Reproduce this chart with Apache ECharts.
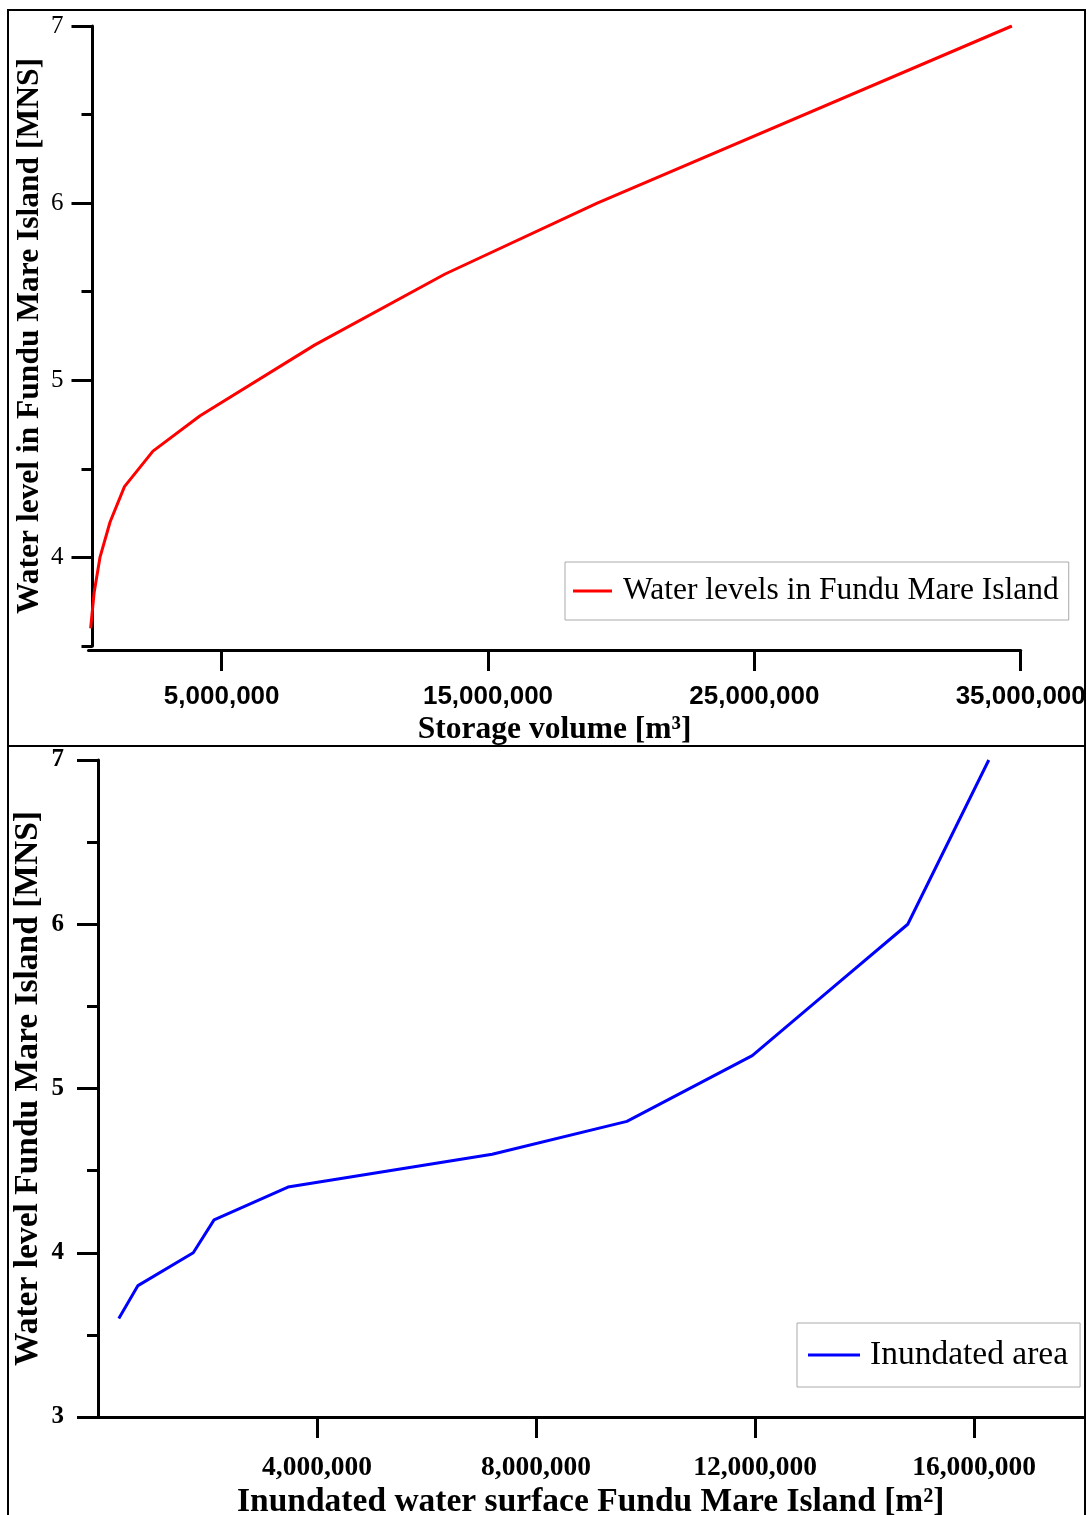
<!DOCTYPE html>
<html>
<head>
<meta charset="utf-8">
<script src="https://cdn.jsdelivr.net/npm/echarts@6/dist/echarts.min.js"></script>
<style>
html,body{margin:0;padding:0;background:#fff;}
#chart{width:1087px;height:1515px;}
</style>
</head>
<body>
<div id="chart"></div>
<script>
// Top chart: storage volume vs water level
const storageVolume = [80000, 210000, 430000, 810000, 1350000, 2420000, 4190000, 8500000, 13390000, 19100000, 34670000];
const storageLevel  = [3.6, 3.8, 4.0, 4.2, 4.4, 4.6, 4.8, 5.2, 5.6, 6.0, 7.0];
// Bottom chart: inundated area vs water level
const inundatedArea  = [380000, 730000, 1740000, 2120000, 3470000, 7200000, 9660000, 11950000, 13370000, 14790000, 16270000];
const inundatedLevel = [3.6, 3.8, 4.0, 4.2, 4.4, 4.6, 4.8, 5.2, 5.6, 6.0, 7.0];

const topXTicks = [5000000, 15000000, 25000000, 35000000];
const topYMajor = [4, 5, 6, 7];
const topYMinor = [3.5, 4.5, 5.5, 6.5];
const botXTicks = [4000000, 8000000, 12000000, 16000000];
const botYMajor = [3, 4, 5, 6, 7];
const botYMinor = [3.5, 4.5, 5.5, 6.5];

const seriesNames = ['Water levels in Fundu Mare Island', 'Inundated area'];

const SERIF = '"Liberation Serif", "Times New Roman", serif';
const SANS = '"Liberation Sans", Arial, sans-serif';
const fmt = v => Number(v).toLocaleString('en-US');

const chart = echarts.init(document.getElementById('chart'));
const axisLine = {show: true, lineStyle: {color: '#000', width: 3}};

chart.setOption({
  animation: false,
  backgroundColor: '#fff',
  grid: [
    {left: 88.5, right: 66.3, top: 26, height: 620, containLabel: false, outerBoundsMode: 'none'},
    {left: 98, right: 3.5, top: 760, height: 657, containLabel: false, outerBoundsMode: 'none'}
  ],
  xAxis: [
    {
      gridIndex: 0, type: 'value', min: 0, max: 35000000, offset: 4,
      axisLine: axisLine, splitLine: {show: false},
      axisTick: {show: true, length: 21, lineStyle: {width: 3, color: '#000'}, customValues: topXTicks},
      axisLabel: {customValues: topXTicks, formatter: fmt, margin: 34, fontFamily: SANS, fontWeight: 'bold', fontSize: 26, color: '#000'},
      name: 'Storage volume [m³]', nameLocation: 'middle', nameGap: 64,
      nameTextStyle: {fontFamily: SERIF, fontWeight: 'bold', fontSize: 31.5, color: '#000'}
    },
    {
      gridIndex: 1, type: 'value', min: 0, max: 18000000,
      axisLine: axisLine, splitLine: {show: false},
      axisTick: {show: true, length: 21, lineStyle: {width: 3, color: '#000'}, customValues: botXTicks},
      axisLabel: {customValues: botXTicks, formatter: fmt, margin: 37, fontFamily: SERIF, fontWeight: 'bold', fontSize: 27.5, color: '#000'},
      name: 'Inundated water surface Fundu Mare Island [m²]', nameLocation: 'middle', nameGap: 68,
      nameTextStyle: {fontFamily: SERIF, fontWeight: 'bold', fontSize: 33.5, color: '#000'}
    }
  ],
  yAxis: [
    {
      gridIndex: 0, type: 'value', min: 3.5, max: 7, offset: -4, position: 'left',
      axisLine: axisLine, splitLine: {show: false},
      axisTick: {show: true, length: 21, lineStyle: {width: 3, color: '#000'}, customValues: topYMajor},
      axisLabel: {customValues: topYMajor, margin: 29, fontFamily: SERIF, fontSize: 25, color: '#000'},
      name: 'Water level in Fundu Mare Island [MNS]', nameLocation: 'middle', nameGap: 47, nameMoveOverlap: false,
      nameTextStyle: {fontFamily: SERIF, fontWeight: 'bold', fontSize: 31.5, color: '#000'}
    },
    {
      gridIndex: 0, type: 'value', min: 3.5, max: 7, offset: -4, position: 'left',
      axisLine: {show: false}, splitLine: {show: false},
      axisTick: {show: true, length: 11, lineStyle: {width: 3, color: '#000'}, customValues: topYMinor},
      axisLabel: {show: false}
    },
    {
      gridIndex: 1, type: 'value', min: 3, max: 7, position: 'left',
      axisLine: axisLine, splitLine: {show: false},
      axisTick: {show: true, length: 21, lineStyle: {width: 3, color: '#000'}, customValues: botYMajor},
      axisLabel: {customValues: botYMajor, margin: 34, fontFamily: SERIF, fontWeight: 'bold', fontSize: 25, color: '#000'},
      name: 'Water level Fundu Mare Island [MNS]', nameLocation: 'middle', nameGap: 53, nameMoveOverlap: false,
      nameTextStyle: {fontFamily: SERIF, fontWeight: 'bold', fontSize: 33.5, color: '#000'}
    },
    {
      gridIndex: 1, type: 'value', min: 3, max: 7, position: 'left',
      axisLine: {show: false}, splitLine: {show: false},
      axisTick: {show: true, length: 11, lineStyle: {width: 3, color: '#000'}, customValues: botYMinor},
      axisLabel: {show: false}
    }
  ],
  legend: [
    {
      data: [seriesNames[0]], left: 565, top: 562,
      padding: [13, 10, 13, 8], borderColor: '#aaa', borderWidth: 1,
      icon: 'rect', itemWidth: 39, itemHeight: 3,
      textStyle: {fontFamily: SERIF, fontSize: 31.5, color: '#000', padding: [0, 0, 0, 6]}
    },
    {
      data: [seriesNames[1]], left: 797, top: 1323,
      padding: [15, 12, 15, 11], borderColor: '#aaa', borderWidth: 1,
      icon: 'rect', itemWidth: 52, itemHeight: 3,
      textStyle: {fontFamily: SERIF, fontSize: 33.5, color: '#000', padding: [0, 0, 0, 5]}
    }
  ],
  graphic: [
    {type: 'rect', shape: {x: 8, y: 10, width: 1077, height: 736}, style: {fill: 'none', stroke: '#000', lineWidth: 2}, z: 100},
    {type: 'rect', shape: {x: 8, y: 746, width: 1077, height: 790}, style: {fill: 'none', stroke: '#000', lineWidth: 2}, z: 100}
  ],
  series: [
    {
      name: seriesNames[0], type: 'line', xAxisIndex: 0, yAxisIndex: 0,
      data: storageVolume.map((v, i) => [v, storageLevel[i]]),
      showSymbol: false, symbol: 'none', color: '#ff0000',
      lineStyle: {width: 3, color: '#ff0000'}
    },
    {
      name: seriesNames[1], type: 'line', xAxisIndex: 1, yAxisIndex: 2,
      data: inundatedArea.map((v, i) => [v, inundatedLevel[i]]),
      showSymbol: false, symbol: 'none', color: '#0000ff',
      lineStyle: {width: 3, color: '#0000ff'}
    }
  ]
});
</script>
</body>
</html>
